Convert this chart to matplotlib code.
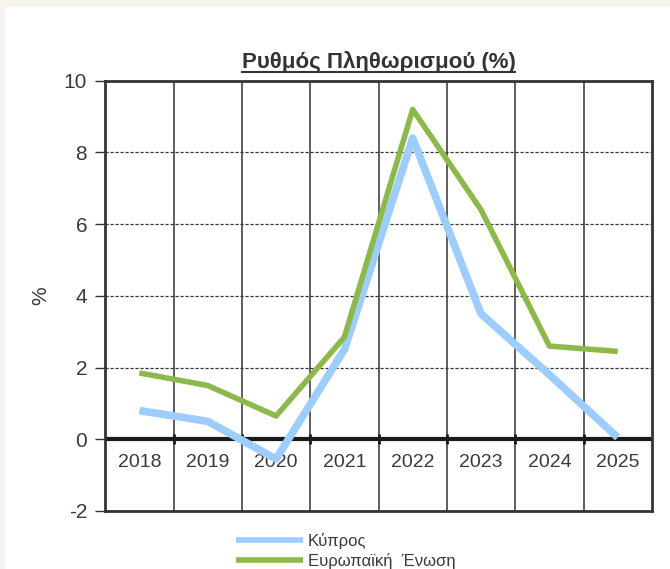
import matplotlib.pyplot as plt
from matplotlib.patches import Rectangle

plt.rcParams['font.family'] = ['Liberation Sans', 'DejaVu Sans']

# Data
years = ['2018', '2019', '2020', '2021', '2022', '2023', '2024', '2025']
cyprus = [0.8, 0.5, -0.55, 2.5, 8.4, 3.5, 1.8, 0.05]
eu = [1.85, 1.5, 0.65, 2.85, 9.2, 6.4, 2.6, 2.45]
yticks = [-2, 0, 2, 4, 6, 8, 10]

fig = plt.figure(figsize=(6.7, 5.69), dpi=100, facecolor='white')

# beige page strips at top and left
fig.patches.append(Rectangle((0, 1 - 7 / 569), 1, 7 / 569, transform=fig.transFigure,
                             facecolor='#f7f4ee', edgecolor='none', zorder=0))
fig.patches.append(Rectangle((0, 0), 5 / 670, 1, transform=fig.transFigure,
                             facecolor='#f7f4ee', edgecolor='none', zorder=0))

ax = fig.add_axes([0.157, 0.102, 0.816, 0.756])
x = list(range(len(years)))

ax.set_xlim(-0.5, len(years) - 0.5)
ax.set_ylim(-2, 10)

# grid: solid verticals at category boundaries, dashed horizontals
for b in [i + 0.5 for i in x[:-1]]:
    ax.axvline(b, color='#333333', lw=1.1, zorder=1)
for yv in [2, 4, 6, 8]:
    ax.axhline(yv, color='#333333', lw=0.9, ls=(0, (2.5, 1.5)), zorder=1)

# zero axis line with small tick marks
ax.axhline(0, color='#1a1a1a', lw=3, zorder=2)
ax.plot([i + 0.5 for i in x[:-1]], [0] * (len(x) - 1), '|', color='#1a1a1a',
        ms=7, mew=2, zorder=2)

for i, yr in enumerate(years):
    ax.text(i, -0.65, yr, ha='center', va='center', fontsize=14, color='#3a3a3a', zorder=3)

ax.plot(x, cyprus, color='#9dcdfc', lw=5.5, solid_capstyle='butt', label='Κύπρος', zorder=4)
ax.plot(x, eu, color='#8db84c', lw=4, solid_capstyle='butt', label='Ευρωπαϊκή  Ένωση', zorder=5)

ax.set_xticks([])
ax.set_yticks(yticks)
ax.set_yticklabels([str(v) for v in yticks], fontsize=15, color='#3a3a3a')
ax.tick_params(axis='y', length=7, width=1, color='#333333', pad=6)
for s in ax.spines.values():
    s.set_color('#333333')
    s.set_linewidth(2)

ax.set_ylabel('%', fontsize=15, color='#3a3a3a', labelpad=10)

ax.set_title('Ρυθμός Πληθωρισμού (%)', fontsize=16, fontweight='bold',
             color='#333333', pad=9)
# underline the title
fig.canvas.draw()
bb = ax.title.get_window_extent()
inv = fig.transFigure.inverted()
(x0, y0), (x1, y1) = inv.transform([(bb.x0, bb.y0), (bb.x1, bb.y1)])
fig.add_artist(plt.Line2D([x0, x1], [y0 + 0.002, y0 + 0.002], transform=fig.transFigure,
                          color='#333333', lw=1.5))

leg = fig.legend(loc='upper left', bbox_to_anchor=(0.34, 0.078), frameon=False,
                 fontsize=12, handlelength=4, labelspacing=0.25, handletextpad=0.3,
                 labelcolor='#3a3a3a', borderpad=0)
for h in leg.get_lines():
    h.set_linewidth(4)

plt.savefig('out.png', dpi=100, facecolor='white')
